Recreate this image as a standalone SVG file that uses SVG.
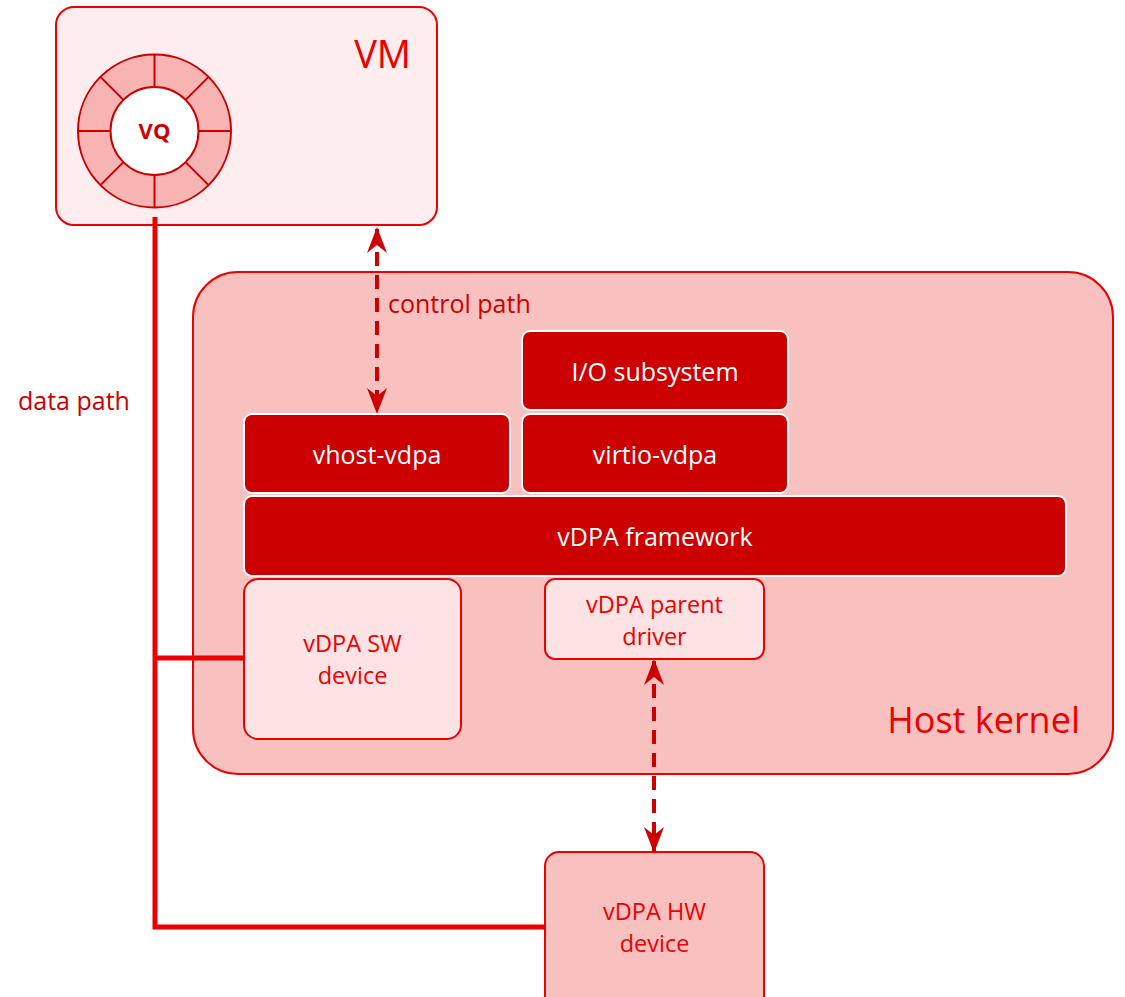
<svg xmlns="http://www.w3.org/2000/svg" width="1125" height="997" viewBox="0 0 1125 997">
  <defs>
    <style>
      text { font-family: "Open Sans", "Liberation Sans", sans-serif; }
      .solid { fill: #cc0000; stroke: #ffffff; stroke-width: 2; }
      .solid-label { fill: #ffffff; font-size: 25px; text-anchor: middle; }
      .light { fill: #fde3e4; stroke: #ee0000; stroke-width: 2; }
      .light-label { fill: #ee0000; font-size: 23.5px; text-anchor: middle; }
      .big-label { fill: #ee0000; text-anchor: end; }
      .note { fill: #cc0000; font-size: 25px; }
      .data { fill: none; stroke: #ee0000; stroke-width: 5; }
      .ctrl { fill: none; stroke: #cc0000; stroke-width: 4; stroke-dasharray: 14 9; marker-start: url(#head); marker-end: url(#head); }
      .ring { fill: #f8b3b3; stroke: #cc0000; stroke-width: 2; }
    </style>
    <marker id="head" viewBox="0 0 26 20" refX="24" refY="10" markerWidth="26" markerHeight="20" orient="auto-start-reverse" markerUnits="userSpaceOnUse">
      <path d="M0,0 L26,10 L0,20 L8,10 z" fill="#cc0000"/>
    </marker>
  </defs>

  <!-- Host kernel container -->
  <g id="host-kernel">
    <rect x="193" y="272" width="920" height="502" rx="45" fill="#f9c0c0" stroke="#ee0000" stroke-width="2"/>
    <text class="big-label" x="1080" y="733" font-size="36">Host kernel</text>
  </g>

  <!-- VM container with virtqueue ring -->
  <g id="vm">
    <rect x="56" y="7" width="381" height="218" rx="18" fill="#fdedee" stroke="#ee0000" stroke-width="2"/>
    <text class="big-label" x="411" y="68" font-size="38">VM</text>
    <g id="vq">
      <circle class="ring" cx="154.5" cy="131" r="76.5"/>
      <g stroke="#cc0000" stroke-width="2">
        <line x1="154.5" y1="54.5" x2="154.5" y2="207.5"/>
        <line x1="78" y1="131" x2="231" y2="131"/>
        <line x1="100.4" y1="76.9" x2="208.6" y2="185.1"/>
        <line x1="208.6" y1="76.9" x2="100.4" y2="185.1"/>
      </g>
      <circle cx="154.5" cy="131" r="44" fill="#ffffff" stroke="#cc0000" stroke-width="2"/>
      <text x="154.5" y="139" fill="#cc0000" font-size="22" font-weight="bold" text-anchor="middle">VQ</text>
    </g>
  </g>

  <!-- Connectors -->
  <g id="connectors">
    <polyline class="data" points="155,217 155,927 545,927"/>
    <line class="data" x1="155" y1="658" x2="244" y2="658"/>
    <line class="ctrl" x1="377" y1="229" x2="377" y2="412"/>
    <line class="ctrl" x1="654" y1="661" x2="654" y2="851"/>
    <text class="note" x="388" y="313">control path</text>
    <text class="note" x="18" y="410" fill="#ee0000">data path</text>
  </g>

  <g id="io-subsystem">
    <rect class="solid" x="522" y="331" width="266" height="79" rx="8"/>
    <text class="solid-label" x="655" y="381">I/O subsystem</text>
  </g>

  <g id="vhost-vdpa">
    <rect class="solid" x="244" y="414" width="266" height="79" rx="8"/>
    <text class="solid-label" x="377" y="464">vhost-vdpa</text>
  </g>

  <g id="virtio-vdpa">
    <rect class="solid" x="522" y="414" width="266" height="79" rx="8"/>
    <text class="solid-label" x="655" y="464">virtio-vdpa</text>
  </g>

  <g id="vdpa-framework">
    <rect class="solid" x="244" y="496" width="822" height="80" rx="8"/>
    <text class="solid-label" x="655" y="546">vDPA framework</text>
  </g>

  <g id="vdpa-sw-device">
    <rect class="light" x="244" y="579" width="217" height="160" rx="14"/>
    <text class="light-label" x="352.5" y="652">vDPA SW</text>
    <text class="light-label" x="352.5" y="684">device</text>
  </g>

  <g id="vdpa-parent-driver">
    <rect class="light" x="545" y="579" width="219" height="80" rx="10"/>
    <text class="light-label" x="654.5" y="613">vDPA parent</text>
    <text class="light-label" x="654.5" y="645">driver</text>
  </g>

  <g id="vdpa-hw-device">
    <rect x="545" y="852" width="219" height="160" rx="14" fill="#f9c0c0" stroke="#ee0000" stroke-width="2"/>
    <text class="light-label" x="654.5" y="920">vDPA HW</text>
    <text class="light-label" x="654.5" y="952">device</text>
  </g>
</svg>
